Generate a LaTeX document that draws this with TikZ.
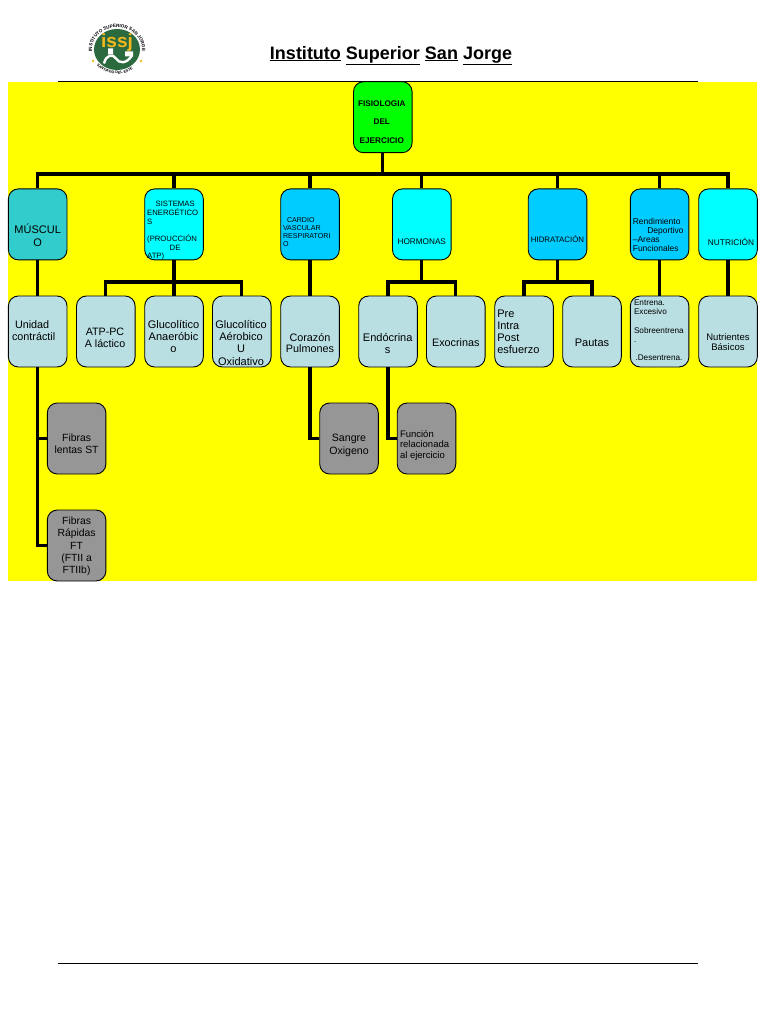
\documentclass[tikz,border=0pt]{standalone}
\usepackage{fontspec}
\setmainfont{Liberation Sans}
\usetikzlibrary{decorations.text}
\definecolor{yellowbg}{RGB}{255,255,0}
\definecolor{cyanbox}{HTML}{00FFFF}
\definecolor{bluebox}{HTML}{00CCFF}
\definecolor{tealbox}{HTML}{33CCCC}
\definecolor{rootbox}{HTML}{00FF00}
\definecolor{palebox}{HTML}{B9DFE3}
\definecolor{greybox}{HTML}{969696}
\definecolor{logogreen}{HTML}{2B6A3E}
\definecolor{logogold}{HTML}{F4B81C}
\tikzset{
  treebox/.style={draw=black,line width=0.9pt,rounded corners=10pt,minimum width=58.6pt,minimum height=71pt,inner sep=0pt,text=black},
  conn/.style={draw=black,line width=3.2pt,line join=miter},
  rule/.style={draw=black,line width=0.8pt},
}
% left-aligned lines: dx of left edge, dy of first baseline, size, line spacing
\newcommand{\Lt}[5]{\smash{\makebox[0pt][l]{\hspace*{#1pt}\raisebox{-#2pt}{\fontsize{#3}{#4}\selectfont\begin{tabular}[t]{@{}l@{}}#5\end{tabular}}}}}
% centred lines: dx of centre, dy of first baseline, size, line spacing
\newcommand{\Ct}[5]{\smash{\makebox[0pt][c]{\hspace*{\dimexpr 2\dimexpr #1pt\relax\relax}\raisebox{-#2pt}{\fontsize{#3}{#4}\selectfont\begin{tabular}[t]{@{}c@{}}#5\end{tabular}}}}}
\newcommand{\bx}[5]{\node[treebox,fill=#4] (#1) at (#2,#3) {#5};}
\begin{document}
\begin{tikzpicture}[x=1pt,y=-1pt]
\useasboundingbox (0,0) rectangle (768,1024);
\fill[yellowbg] (8.3,81.7) rectangle (757.3,580.7);
\draw[rule] (58,81.5) -- (698,81.5);
\draw[rule] (58,963) -- (698,963);
\node[inner sep=0pt,font=\fontsize{18}{20}\selectfont\bfseries] (title) at (391,55.5)
  {\underline{Instituto} \underline{Superior} \underline{San} \underline{Jorge}};
% logo
\begin{scope}[y=1pt,shift={(117pt,-49.5pt)}]
  \fill[logogreen] (0,0) ellipse (23 and 20.5);
  \path[decorate,decoration={text along path,text align=center,
    text={|\fontsize{4.6}{6}\selectfont\bfseries|INSTITUTO SUPERIOR SAN JORGE}}]
    (205:25 and 22) arc[start angle=205,end angle=-25,x radius=25,y radius=22];
  \path[decorate,decoration={text along path,text align=center,
    text={|\fontsize{3.8}{5}\selectfont\bfseries|SANTIAGO DEL ESTERO}}]
    (232:27 and 24.5) arc[start angle=232,end angle=308,x radius=27,y radius=24.5];
  \fill[logogold] (-24,-11.5) circle (1.3) (24,-11.5) circle (1.3);
  \node[inner sep=0pt,text=logogold,font=\fontsize{19}{20}\selectfont\bfseries] (logotext) at (0,7) {issj};
  \draw[white,line width=2.4pt] (-13,-14) .. controls (-11,-5) and (-4,-4) .. (-1,-9)
     .. controls (2,-14) and (9,-15) .. (15,-6);
  \fill[white] (-9,-5) rectangle (-4,1) (8,-7) rectangle (16,-2);
\end{scope}
% level 0
\bx{root}{382.8}{117.2}{rootbox}{\Ct{-1}{-10.5}{8.2}{18.2}{\textbf{FISIOLOGIA}\\\textbf{DEL}\\\textbf{EJERCICIO}}}
% level 1
\bx{musculo}{37.7}{224.4}{tealbox}{\Ct{0}{9.5}{11}{12.4}{MÚSCUL\\O}}
\bx{sistemas}{174}{224.4}{cyanbox}{\Lt{-26.8}{-18}{7.7}{8.5}{\hspace*{8.5pt}SISTEMAS\\ENERGÉTICO\\S\\ \\(PROUCCIÓN\\\hspace*{22.5pt}DE\\ATP)}}
\bx{cardio}{310}{224.4}{bluebox}{\Lt{-27}{-2}{7.1}{7.9}{\hspace*{4pt}CARDIO\\VASCULAR\\RESPIRATORI\\O}}
\bx{hormonas}{421.8}{224.4}{cyanbox}{\Ct{0}{19.7}{8.2}{9}{HORMONAS}}
\bx{hidratacion}{557.5}{224.4}{bluebox}{\Ct{0}{18.5}{7.9}{9}{HIDRATACIÓN}}
\bx{rendimiento}{659.6}{224.4}{bluebox}{\Lt{-26.8}{0.3}{8.5}{9}{Rendimiento\\\hspace*{14.5pt}Deportivo\\--Areas\\Funcionales}}
\bx{nutricion}{728}{224.4}{cyanbox}{\Ct{3}{21.5}{8.3}{9}{NUTRICIÓN}}
% level 2
\bx{unidad}{37.7}{331.5}{palebox}{\Lt{-25.7}{-3.3}{10.8}{12.3}{\hspace*{3pt}Unidad\\contráctil}}
\bx{atp}{105.8}{331.5}{palebox}{\Ct{-0.8}{3.5}{10.7}{12}{ATP-PC\\A láctico}}
\bx{gluc}{174}{331.5}{palebox}{\Ct{-0.5}{-3.3}{11}{12.2}{Glucolítico\\Anaeróbic\\o}}
\bx{gluco}{241.8}{331.5}{palebox}{\Ct{-0.8}{-3.3}{11}{12.3}{Glucolítico\\Aérobico\\U\\Oxidativo}}
\bx{corazon}{310}{331.5}{palebox}{\Ct{0}{9.5}{10.8}{11.5}{Corazón\\Pulmones}}
\bx{endocrinas}{388}{331.5}{palebox}{\Ct{-0.3}{9.5}{11}{12}{Endócrina\\s}}
\bx{exocrinas}{455.8}{331.5}{palebox}{\Ct{0}{14.5}{10.8}{12}{Exocrinas}}
\bx{pre}{524}{331.5}{palebox}{\Lt{-26.7}{-14.5}{11}{12}{Pre\\Intra\\Post\\esfuerzo}}
\bx{pautas}{592}{331.5}{palebox}{\Ct{0}{14.5}{11}{12}{Pautas}}
\bx{entrena}{659.6}{331.5}{palebox}{\Lt{-25.6}{-26}{8.2}{9.2}{Entrena.\\Excesivo\\ \\Sobreentrena\\.\\ \\\hspace*{1.5pt}.Desentrena.}}
\bx{nutrientes}{728}{331.5}{palebox}{\Ct{0}{8.8}{9.5}{10.5}{Nutrientes\\Básicos}}
% level 3 and 4
\bx{lentas}{76.6}{438.5}{greybox}{\Ct{0}{3.3}{10.4}{12}{Fibras\\lentas ST}}
\bx{sangre}{349}{438.5}{greybox}{\Ct{0}{3.3}{10.6}{12.3}{Sangre\\Oxigeno}}
\bx{funcion}{426.5}{438.5}{greybox}{\Lt{-26.5}{-1.2}{9.5}{10.4}{Función\\relacionada\\al ejercicio}}
\bx{rapidas}{76.6}{545.5}{greybox}{\Ct{0}{-21}{10.4}{12.3}{Fibras\\Rápidas\\FT\\(FTII a\\FTIIb)}}
% connectors
\coordinate (busA) at (0,174);
\coordinate (busB) at (0,282);
\foreach \c in {musculo,sistemas,cardio,hormonas,hidratacion,rendimiento,nutricion}
  \draw[conn] (root.south) |- (\c.north |- busA) -- (\c.north);
\foreach \c in {atp,gluc,gluco}
  \draw[conn] (sistemas.south) |- (\c.north |- busB) -- (\c.north);
\foreach \c in {endocrinas,exocrinas}
  \draw[conn] (hormonas.south) |- (\c.north |- busB) -- (\c.north);
\foreach \c in {pre,pautas}
  \draw[conn] (hidratacion.south) |- (\c.north |- busB) -- (\c.north);
\draw[conn] (musculo.south) -- (unidad.north);
\draw[conn] (cardio.south) -- (corazon.north);
\draw[conn] (rendimiento.south) -- (entrena.north);
\draw[conn] (nutricion.south) -- (nutrientes.north);
\draw[conn] (unidad.south) |- (lentas.west);
\draw[conn] (unidad.south) |- (rapidas.west);
\draw[conn] (corazon.south) |- (sangre.west);
\draw[conn] (endocrinas.south) |- (funcion.west);
\end{tikzpicture}
\end{document}
